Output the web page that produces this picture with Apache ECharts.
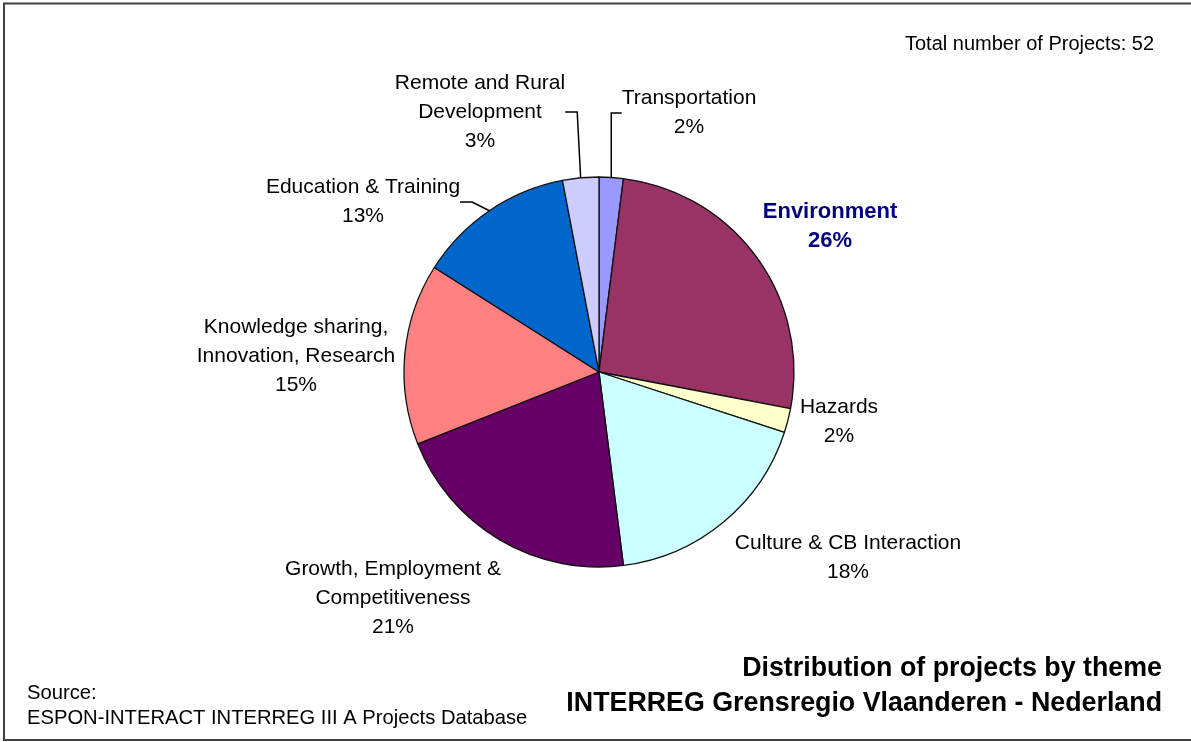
<!DOCTYPE html>
<html><head><meta charset="utf-8">
<script src="https://cdn.jsdelivr.net/npm/echarts@6/dist/echarts.min.js"></script>
<style>html,body{margin:0;padding:0;background:#fff}#c{width:1191px;height:742px}</style>
</head><body><div id="c"></div>
<script>
// ---- data ----
const categories = ['Transportation', 'Environment', 'Hazards', 'Culture & CB Interaction',
  'Growth, Employment &\nCompetitiveness', 'Knowledge sharing,\nInnovation, Research',
  'Education & Training', 'Remote and Rural\nDevelopment'];
const shares = [2, 26, 2, 18, 21, 15, 13, 3];
const totalProjects = 52;
const chartTitle = 'Distribution of projects by theme\nINTERREG Grensregio Vlaanderen - Nederland';
const sourceText = 'Source:\nESPON-INTERACT INTERREG III A Projects Database';

// ---- styles / layout ----
const colors = ['#9999FF', '#993366', '#FFFFCC', '#CCFFFF', '#660066', '#FF8080', '#0066CC', '#CCCCFF'];
const labelPos = [[689, 113], [830, 226], [839, 422], [848, 558], [393, 598], [296, 356], [363, 202], [480, 112]];
const leaderShown = [true, false, false, false, false, false, true, true];
const FONT = '"Liberation Sans", Arial, sans-serif';

const chart = echarts.init(document.getElementById('c'), null, {renderer: 'canvas'});
chart.setOption({
  backgroundColor: '#ffffff',
  animation: false,
  series: [{
    type: 'pie',
    center: [599, 372],
    radius: 195,
    startAngle: 90,
    clockwise: true,
    silent: true,
    avoidLabelOverlap: false,
    minShowLabelAngle: 0,
    itemStyle: {borderColor: '#111', borderWidth: 1.3},
    label: {
      show: true,
      position: 'outside',
      formatter: p => p.name + '\n' + p.value + '%',
      fontFamily: FONT, fontSize: 21, lineHeight: 29, color: '#000', align: 'center'
    },
    labelLine: {show: false, length: 12, length2: 12, smooth: false,
      lineStyle: {color: '#000', width: 1.5}},
    labelLayout: p => ({
      x: labelPos[p.dataIndex][0], y: labelPos[p.dataIndex][1],
      align: 'center', verticalAlign: 'middle'
    }),
    emphasis: {disabled: true},
    data: categories.map((n, i) => ({
      name: n, value: shares[i],
      itemStyle: {color: colors[i]},
      labelLine: {show: leaderShown[i]},
      label: i === 1 ? {fontWeight: 'bold', color: '#000080', fontSize: 22} : {}
    }))
  }],
  graphic: [
    {type: 'rect', silent: true, shape: {x: 4, y: 3.5, width: 1200, height: 736.5},
      style: {fill: 'none', stroke: '#404040', lineWidth: 2}},
    {type: 'text', silent: true, x: 1154, y: 44,
      style: {text: 'Total number of Projects: ' + totalProjects, align: 'right', verticalAlign: 'middle',
        fontFamily: FONT, fontSize: 20, fill: '#000'}},
    {type: 'text', silent: true, x: 27, y: 706,
      style: {text: sourceText, align: 'left', verticalAlign: 'middle', lineHeight: 25,
        fontFamily: FONT, fontSize: 20.2, fill: '#000'}},
    {type: 'text', silent: true, x: 1162, y: 686,
      style: {text: chartTitle, align: 'right', verticalAlign: 'middle', lineHeight: 35,
        fontFamily: FONT, fontSize: 26.8, fontWeight: 'bold', fill: '#000'}}
  ]
});
</script>
</body></html>
